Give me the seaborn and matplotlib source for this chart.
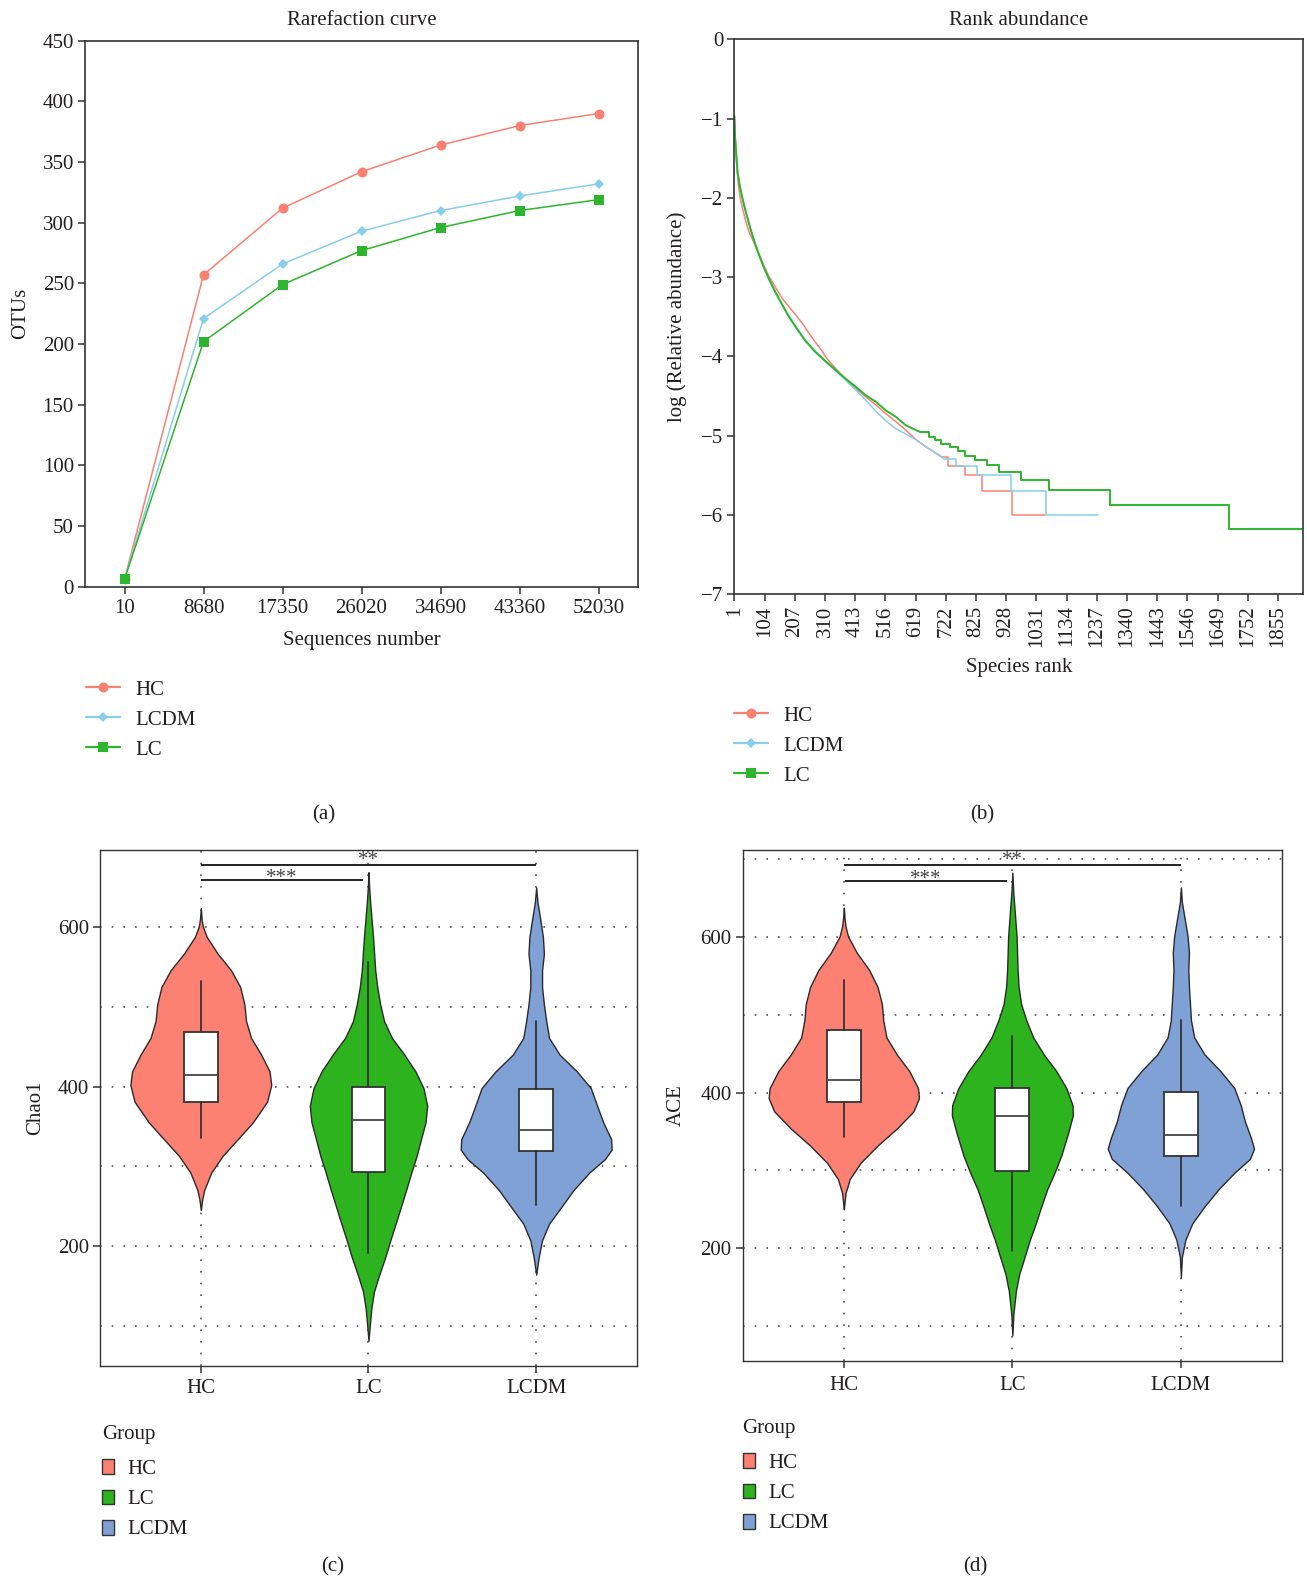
import numpy as np
import pandas as pd
import matplotlib
matplotlib.use("Agg")
import matplotlib.pyplot as plt
from matplotlib.patches import Patch
from matplotlib.lines import Line2D
import seaborn as sns

# ------------------------------------------------------------------ data
# (a) rarefaction curve
SEQ_LABELS = ["10", "8680", "17350", "26020", "34690", "43360", "52030"]
OTU_HC = [6, 257, 312, 342, 364, 380, 390]
OTU_LCDM = [6, 221, 266, 293, 310, 322, 332]
OTU_LC = [6, 202, 249, 277, 296, 310, 319]

# (b) rank abundance (smooth head read as points, tail read as step levels)
RANK_TICKS = [1, 104, 207, 310, 413, 516, 619, 722, 825, 928, 1031, 1134,
              1237, 1340, 1443, 1546, 1649, 1752, 1855]
HC_RANK_HEAD = [1, 4, 9, 15, 22, 30, 40, 50, 66, 80, 100, 117, 140, 163, 186,
                209, 232, 254, 277, 300, 317, 346, 380, 414, 449, 483, 517,
                551, 586, 620, 654, 688, 710]
HC_LOG_HEAD = [-0.97, -1.30, -1.60, -1.85, -2.02, -2.15, -2.30, -2.42, -2.55,
               -2.67, -2.84, -2.98, -3.12, -3.26, -3.37, -3.47, -3.58, -3.70,
               -3.82, -3.93, -4.03, -4.15, -4.29, -4.40, -4.51, -4.61, -4.72,
               -4.82, -4.93, -5.05, -5.14, -5.22, -5.27]
HC_RANK_STEP = [710, 730, 789, 845, 946, 1061]
HC_LOG_STEP = [-5.27, -5.38, -5.50, -5.70, -6.00, -6.00]

LCDM_RANK_HEAD = [1, 3, 6, 12, 20, 30, 40, 55, 70, 85, 104, 120, 140, 163, 186,
                  209, 243, 277, 312, 346, 380, 414, 449, 483, 517, 551, 586,
                  620, 654, 688, 716]
LCDM_LOG_HEAD = [-0.97, -1.20, -1.38, -1.68, -1.86, -2.03, -2.18, -2.38, -2.56,
                 -2.72, -2.90, -3.04, -3.19, -3.35, -3.50, -3.63, -3.81, -3.95,
                 -4.07, -4.18, -4.30, -4.42, -4.55, -4.69, -4.81, -4.91, -4.98,
                 -5.05, -5.14, -5.22, -5.29]
LCDM_RANK_STEP = [716, 757, 827, 943, 1065, 1242]
LCDM_LOG_STEP = [-5.29, -5.38, -5.50, -5.70, -6.00, -6.00]

LC_RANK_HEAD = [1, 3, 6, 12, 20, 30, 40, 55, 70, 85, 104, 120, 140, 163, 186,
                209, 243, 277, 312, 346, 380, 414, 449, 483, 517, 551, 586,
                620, 634]
LC_LOG_HEAD = [-0.97, -1.20, -1.38, -1.68, -1.86, -2.03, -2.18, -2.38, -2.56,
               -2.72, -2.90, -3.03, -3.18, -3.34, -3.49, -3.62, -3.80, -3.94,
               -4.06, -4.17, -4.28, -4.38, -4.49, -4.57, -4.68, -4.76, -4.87,
               -4.93, -4.95]
LC_RANK_STEP = [634, 663, 684, 706, 735, 763, 789, 821, 864, 904, 979, 1074,
                1281, 1688, 1940]
LC_LOG_STEP = [-4.95, -5.01, -5.06, -5.10, -5.14, -5.19, -5.25, -5.31, -5.37,
               -5.46, -5.56, -5.69, -5.87, -6.18, -6.18]

# (c)/(d) violin outlines: value levels and half widths
VIOLIN_GROUPS = ["HC", "LC", "LCDM"]
CHAO_HC_Y = [624, 610, 601, 588, 567, 546, 525, 503, 482, 461, 440, 419, 402,
             381, 355, 334, 313, 292, 270, 258, 245]
CHAO_HC_W = [0.0, 0.005, 0.012, 0.035, 0.10, 0.18, 0.235, 0.26, 0.27, 0.30,
             0.36, 0.41, 0.42, 0.395, 0.31, 0.22, 0.13, 0.062, 0.02, 0.008, 0.0]
CHAO_LC_Y = [669, 650, 631, 588, 546, 525, 503, 482, 461, 440, 419, 398, 376,
             355, 334, 313, 292, 270, 249, 228, 207, 186, 164, 143, 122, 101, 81]
CHAO_LC_W = [0.0, 0.004, 0.01, 0.027, 0.04, 0.052, 0.07, 0.093, 0.14, 0.214,
             0.28, 0.328, 0.35, 0.34, 0.313, 0.287, 0.255, 0.224, 0.193, 0.162,
             0.13, 0.10, 0.064, 0.033, 0.017, 0.008, 0.0]
CHAO_LCDM_Y = [650, 631, 609, 588, 567, 546, 525, 503, 482, 461, 440, 419, 398,
               376, 355, 334, 321, 309, 292, 270, 249, 228, 207, 186, 164]
CHAO_LCDM_W = [0.0, 0.008, 0.025, 0.04, 0.046, 0.035, 0.035, 0.046, 0.06, 0.077,
               0.14, 0.243, 0.326, 0.363, 0.40, 0.447, 0.45, 0.41, 0.316, 0.222,
               0.15, 0.077, 0.035, 0.015, 0.0]
ACE_HC_Y = [638, 625, 614, 601, 580, 558, 536, 514, 493, 471, 449, 428, 406,
            393, 376, 354, 332, 310, 289, 271, 250]
ACE_HC_W = [0.0, 0.004, 0.01, 0.025, 0.077, 0.15, 0.20, 0.226, 0.234, 0.253,
            0.315, 0.388, 0.44, 0.446, 0.413, 0.315, 0.20, 0.10, 0.035, 0.01, 0.0]
ACE_LC_Y = [683, 660, 645, 601, 558, 536, 514, 493, 471, 449, 428, 406, 384,
            371, 349, 319, 297, 276, 254, 232, 211, 189, 167, 145, 115, 88]
ACE_LC_W = [0.0, 0.005, 0.01, 0.025, 0.031, 0.037, 0.052, 0.083, 0.124, 0.187,
            0.26, 0.32, 0.357, 0.359, 0.332, 0.29, 0.25, 0.207, 0.172, 0.139,
            0.104, 0.073, 0.041, 0.021, 0.006, 0.0]
ACE_LCDM_Y = [664, 645, 623, 601, 580, 558, 536, 514, 493, 471, 449, 428, 406,
              384, 363, 341, 328, 315, 297, 276, 254, 232, 211, 189, 163]
ACE_LCDM_W = [0.0, 0.006, 0.023, 0.04, 0.048, 0.044, 0.048, 0.054, 0.06, 0.079,
              0.141, 0.234, 0.317, 0.355, 0.38, 0.417, 0.434, 0.41, 0.317, 0.224,
              0.141, 0.068, 0.027, 0.006, 0.0]

# box stats: [whisker low, q1, median, q3, whisker high]
CHAO_BOX_HC = [335, 381, 414, 469, 533]
CHAO_BOX_LC = [191, 293, 358, 400, 556]
CHAO_BOX_LCDM = [251, 319, 345, 397, 482]
ACE_BOX_HC = [343, 388, 416, 480, 545]
ACE_BOX_LC = [197, 299, 370, 406, 473]
ACE_BOX_LCDM = [254, 319, 345, 401, 493]

# ------------------------------------------------------------------ style
sns.set_style("ticks")
plt.rcParams["font.family"] = ["Liberation Serif", "DejaVu Serif"]
plt.rcParams["font.size"] = 15
TXT = "#231F20"
plt.rcParams["text.color"] = TXT
plt.rcParams["axes.labelcolor"] = TXT
plt.rcParams["xtick.color"] = "#333333"
plt.rcParams["ytick.color"] = "#333333"
plt.rcParams["xtick.labelcolor"] = TXT
plt.rcParams["ytick.labelcolor"] = TXT
plt.rcParams["axes.edgecolor"] = "#333333"

C_HC = "#FA8072"
C_LCDM = "#87CEEB"
C_LC = "#2DB52D"
V_COLORS = {"HC": "#FD8173", "LC": "#2DB31E", "LCDM": "#7FA1D6"}

W, H = 1307, 1580
fig = plt.figure(figsize=(W / 100, H / 100), dpi=100)


def frac_axes(l, t, r, b):
    return fig.add_axes([l / W, 1 - b / H, (r - l) / W, (b - t) / H])


def style_ticks(ax):
    ax.tick_params(axis="both", which="major", direction="out", length=5,
                   width=1.1, pad=3, labelsize=15)
    for s in ax.spines.values():
        s.set_linewidth(1.2)
        s.set_color("#333333")


# ------------------------------------------------------------------ (a)
axA = frac_axes(85, 40.7, 638, 586.7)
pos = list(range(len(SEQ_LABELS)))
for name, vals, col, mk, ms in [("HC", OTU_HC, C_HC, "o", 7.2),
                                ("LCDM", OTU_LCDM, C_LCDM, "D", 5.0),
                                ("LC", OTU_LC, C_LC, "s", 7.6)]:
    sns.lineplot(x=pos, y=vals, ax=axA, color=col, marker=mk, markersize=ms,
                 markeredgewidth=0, linewidth=1.1, legend=False)
axA.set_xlim(-0.5, 6.5)
axA.set_ylim(0, 450)
axA.set_xticks(pos)
axA.set_xticklabels(SEQ_LABELS)
axA.set_yticks(range(0, 451, 50))
style_ticks(axA)
axA.tick_params(axis="x", pad=4)
axA.set_title("Rarefaction curve", y=1 + 20.5 / 546, va="center", pad=0,
              fontsize=15)
axA.set_ylabel("OTUs", va="center", fontsize=15)
axA.yaxis.set_label_coords(-0.1172, 0.5)
axA.set_xlabel("Sequences number", va="center", fontsize=15)
axA.xaxis.set_label_coords(0.5, -0.0977)

# ------------------------------------------------------------------ (b)
axB = frac_axes(734.4, 39.3, 1303, 594.3)
for rh, lh, rs, ls, col, lw in [
        (HC_RANK_HEAD, HC_LOG_HEAD, HC_RANK_STEP, HC_LOG_STEP, C_HC, 1.1),
        (LCDM_RANK_HEAD, LCDM_LOG_HEAD, LCDM_RANK_STEP, LCDM_LOG_STEP, C_LCDM, 1.1),
        (LC_RANK_HEAD, LC_LOG_HEAD, LC_RANK_STEP, LC_LOG_STEP, C_LC, 1.4)]:
    sns.lineplot(x=rh, y=lh, ax=axB, color=col, linewidth=lw, legend=False)
    sns.lineplot(x=rs, y=ls, ax=axB, color=col, linewidth=lw, legend=False,
                 drawstyle="steps-post")
axB.set_xlim(1, 1940)
axB.set_ylim(-7, 0)
axB.set_xticks(RANK_TICKS)
axB.set_xticklabels([str(t) for t in RANK_TICKS], rotation=90)
axB.set_yticks(range(-7, 1))
style_ticks(axB)
axB.set_title("Rank abundance", y=1 + 19.0 / 555, va="center", pad=0,
              fontsize=15)
axB.set_ylabel("log (Relative abundance)", va="center", fontsize=15)
axB.yaxis.set_label_coords(-0.1006, 0.5)
axB.set_xlabel("Species rank", va="center", fontsize=15)
axB.xaxis.set_label_coords(0.5, -0.131)

# legends for (a) and (b)
line_handles = [
    Line2D([], [], color=C_HC, marker="o", markersize=7.2, markeredgewidth=0, lw=1.6),
    Line2D([], [], color=C_LCDM, marker="D", markersize=5.0, markeredgewidth=0, lw=1.6),
    Line2D([], [], color=C_LC, marker="s", markersize=7.6, markeredgewidth=0, lw=1.6),
]
for x0, y0 in [(86, 680), (734, 706)]:
    fig.legend(line_handles, ["HC", "LCDM", "LC"], loc="upper left",
               bbox_to_anchor=(x0 / W, 1 - y0 / H), frameon=False,
               borderpad=0, borderaxespad=0, handlelength=1.65,
               handletextpad=0.7, labelspacing=0.5, fontsize=15)


# ------------------------------------------------------------------ (c) (d)
def violin_panel(ax, profiles, boxes, ylim, minor, sig, ylabel, lab_x, xpad):
    ax.set_xlim(-0.6, 2.6)
    ax.set_ylim(*ylim)
    ax.set_xticks([0, 1, 2])
    ax.set_xticklabels(VIOLIN_GROUPS)
    ax.set_yticks([200, 400, 600])
    ax.set_yticks(minor, minor=True)
    ax.set_axisbelow(True)
    grid_kw = dict(color="#555555", linestyle=(0, (1, 6)), linewidth=1.2)
    ax.grid(True, axis="y", which="both", **grid_kw)
    ax.grid(True, axis="x", which="major", **grid_kw)
    ax.tick_params(axis="both", which="minor", length=0)
    style_ticks(ax)
    ax.tick_params(axis="x", which="major", pad=xpad)
    for s in ax.spines.values():
        s.set_linewidth(1.0)
    for i, g in enumerate(VIOLIN_GROUPS):
        ys, ws = profiles[g]
        ys = np.asarray(ys, dtype=float)
        ws = np.asarray(ws, dtype=float)
        ax.fill_betweenx(ys, i - ws, i + ws, facecolor=V_COLORS[g],
                         edgecolor="#2a2a2a", linewidth=1.0, zorder=2)
        lo, q1, med, q3, hi = boxes[g]
        stats = [dict(whislo=lo, q1=q1, med=med, q3=q3, whishi=hi, fliers=[])]
        ax.bxp(stats, positions=[i], widths=0.2, patch_artist=True,
               showfliers=False, showcaps=False, manage_ticks=False,
               boxprops=dict(facecolor="white", edgecolor="#333333", linewidth=1.3),
               medianprops=dict(color="#444444", linewidth=1.3),
               whiskerprops=dict(color="#333333", linewidth=1.3),
               zorder=3)
    # significance bars
    for (x1, x2, yb, txt, xt, yt) in sig:
        ax.plot([x1, x2], [yb, yb], color="#111111", lw=1.3, zorder=4,
                solid_capstyle="butt")
        ax.text(xt, yt, txt, ha="center", va="baseline", fontsize=15,
                color="#444444", zorder=4)
    ax.set_ylabel(ylabel, va="center", fontsize=15)
    ax.yaxis.set_label_coords(lab_x, 0.5)
    ax.set_xlabel("")


axC = frac_axes(100.2, 850.3, 636.8, 1365.5)
violin_panel(
    axC,
    {"HC": (CHAO_HC_Y, CHAO_HC_W), "LC": (CHAO_LC_Y, CHAO_LC_W),
     "LCDM": (CHAO_LCDM_Y, CHAO_LCDM_W)},
    {"HC": CHAO_BOX_HC, "LC": CHAO_BOX_LC, "LCDM": CHAO_BOX_LCDM},
    (50, 696.5), [100, 300, 500],
    [(0, 0.966, 659, "***", 0.48, 655), (0, 2, 678, "**", 1.0, 678)],
    "Chao1", -0.1208, 4.5)

axD = frac_axes(742.7, 849.6, 1282, 1361)
violin_panel(
    axD,
    {"HC": (ACE_HC_Y, ACE_HC_W), "LC": (ACE_LC_Y, ACE_LC_W),
     "LCDM": (ACE_LCDM_Y, ACE_LCDM_W)},
    {"HC": ACE_BOX_HC, "LC": ACE_BOX_LC, "LCDM": ACE_BOX_LCDM},
    (55, 712.6), [100, 300, 500, 700],
    [(0.006, 0.97, 672, "***", 0.487, 668), (0, 2, 693, "**", 1.0, 693)],
    "ACE", -0.1237, 6.0)

patch_handles = [Patch(facecolor=V_COLORS[g], edgecolor="#333333", linewidth=1.0)
                 for g in VIOLIN_GROUPS]
for x0, y0 in [(101.7, 1425), (742.5, 1419)]:
    leg = fig.legend(patch_handles, VIOLIN_GROUPS, loc="upper left",
                     bbox_to_anchor=(x0 / W, 1 - y0 / H), frameon=False,
                     borderpad=0, borderaxespad=0, handlelength=0.58,
                     handleheight=0.72, handletextpad=0.64, labelspacing=0.5,
                     fontsize=15, title="Group", title_fontsize=15,
                     alignment="left")
    leg._legend_box.sep = leg._legend_box.sep + 3.6

# panel captions
for lab, x, y in [("(a)", 323.6, 815), ("(b)", 981.7, 815),
                  ("(c)", 333, 1567), ("(d)", 975.6, 1567)]:
    fig.text(x / W, 1 - y / H, lab, ha="center", va="center", fontsize=15)

fig.savefig("out.png", dpi=100)
